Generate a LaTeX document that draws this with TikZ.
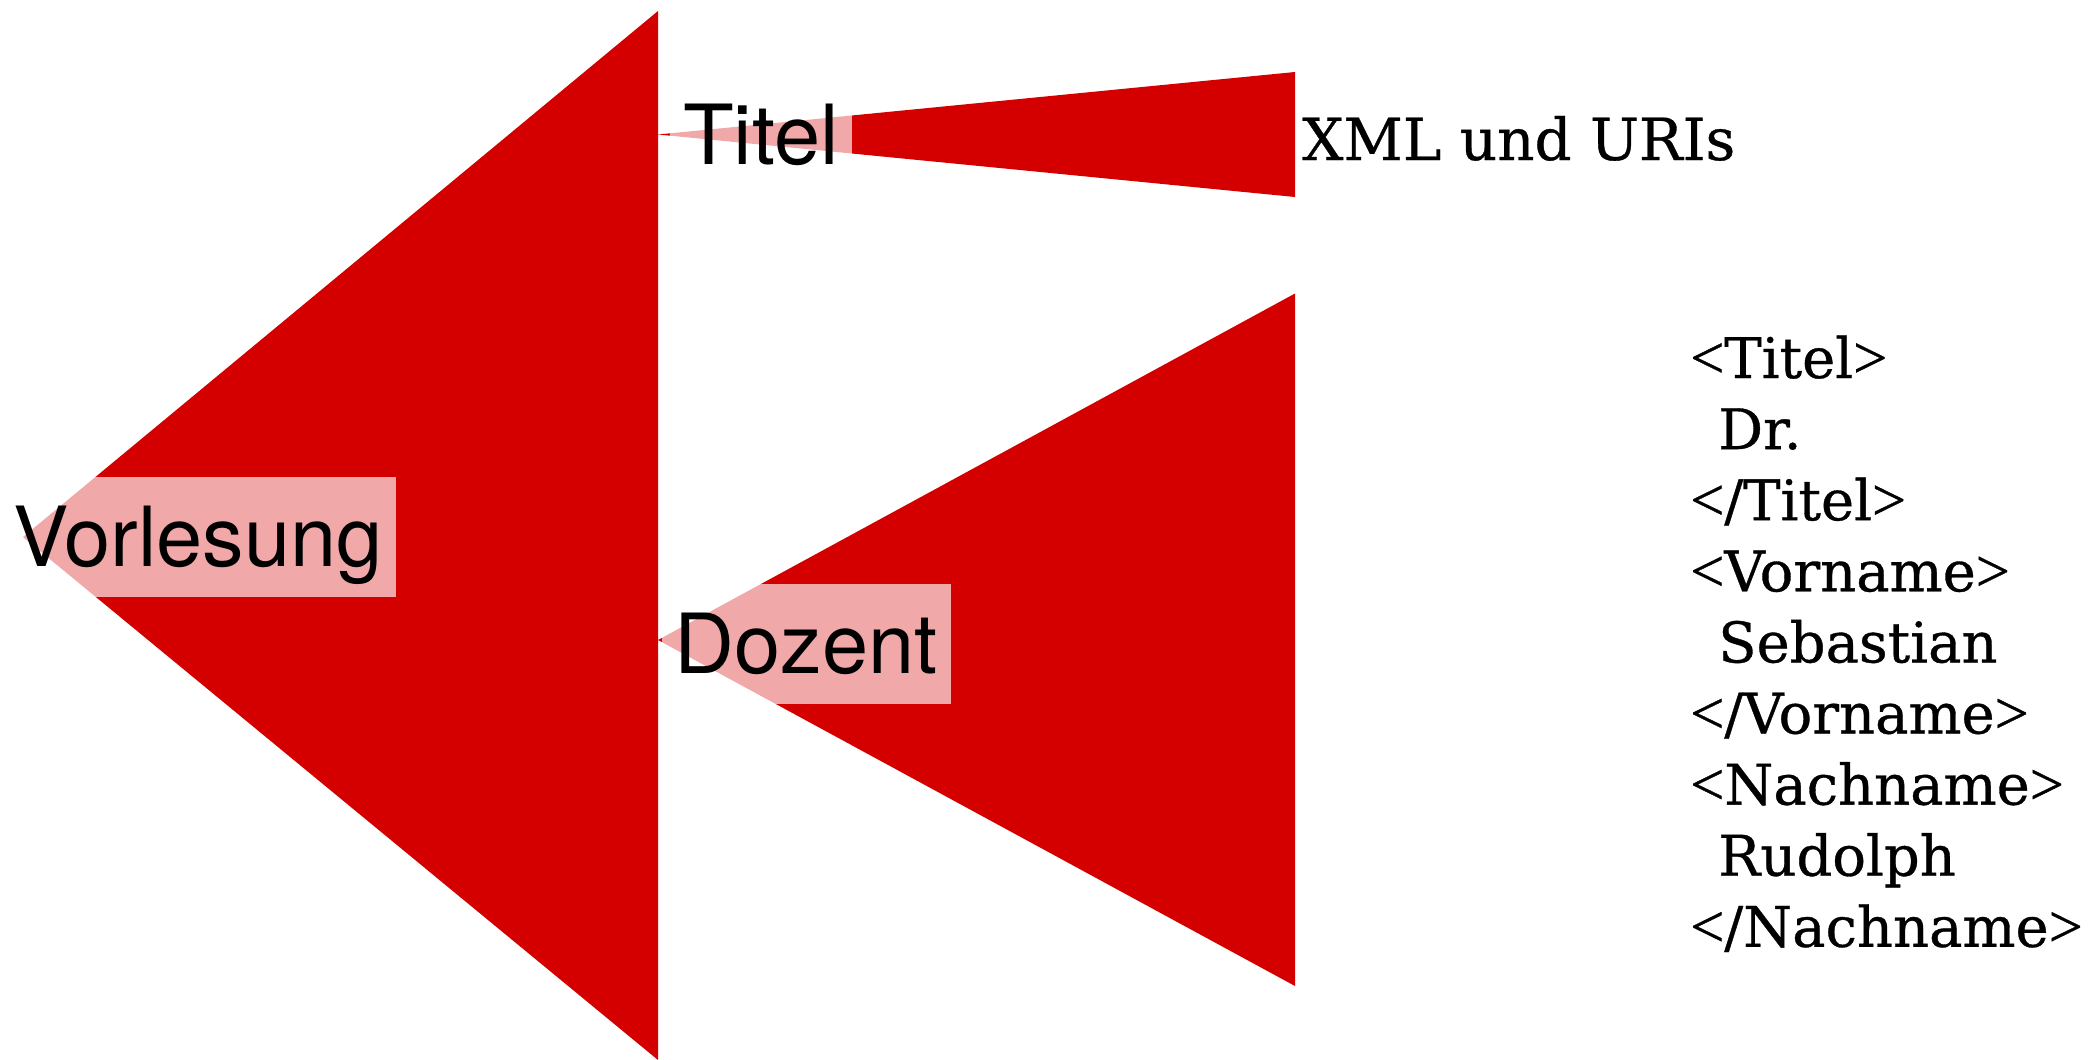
\documentclass[tikz,border=0pt]{standalone}
\usepackage{fontspec}
\setmainfont{TeX Gyre Heros}
\newfontfamily\xmlfont[FakeBold=0.6]{DejaVu Serif}
\newfontfamily\bracketfont[FakeBold=0.6,Scale=1.08]{Liberation Serif}
\newcommand\xlt{{\bracketfont<}}
\newcommand\xgt{{\bracketfont>}}
\usetikzlibrary{backgrounds}
\definecolor{wedgered}{RGB}{212,0,0}
\tikzset{
  lbl/.style={fill=white, fill opacity=0.66, text opacity=1, inner xsep=13pt, inner ysep=0pt,
    minimum height=120pt, text height=59pt, text depth=0pt,
    font=\fontsize{83}{100}\selectfont},
  wedge/.style={fill=wedgered, draw=none},
  xmltxt/.style={inner sep=0pt, anchor=base west, font=\xmlfont\fontsize{56}{67}\selectfont},
}
\begin{document}
\begin{tikzpicture}[x=1pt,y=-1pt]
\useasboundingbox (0,0) rectangle (2094,1060);
% labels
\node[lbl, anchor=east] (vorl) at (396,537) {Vorlesung};
\node[lbl, anchor=east] (titel) at (852,135) {Titel};
\node[lbl, anchor=east] (doz) at (951,644) {Dozent};
% wedge corners
\coordinate (vA) at (23,537);
\coordinate (vT) at (658,11);
\coordinate (vB) at (658,1060);
\coordinate (tA) at (658,134.5);
\coordinate (tT) at (1295,72);
\coordinate (tB) at (1295,197);
\coordinate (dA) at (658,640);
\coordinate (dT) at (1295,293.5);
\coordinate (dB) at (1295,986);
\begin{pgfonlayer}{background}
  \fill[wedge] (vA) -- (vT) -- (vB) -- cycle;
  \fill[wedge] (tA) -- (tT) -- (tB) -- cycle;
  \fill[wedge] (dA) -- (dT) -- (dB) -- cycle;
\end{pgfonlayer}
% right texts
\node[xmltxt, font=\xmlfont\fontsize{58}{70}\selectfont] (uri) at (1302,160) {XML und URIs};
\node[xmltxt] (x1) at (1690,378) {\xlt Titel\xgt};
\node[xmltxt] (x2) at (1718,449.1) {Dr.};
\node[xmltxt] (x3) at (1690,520.2) {\xlt/Titel\xgt};
\node[xmltxt] (x4) at (1690,591.3) {\xlt Vorname\xgt};
\node[xmltxt] (x5) at (1718,662.4) {Sebastian};
\node[xmltxt] (x6) at (1690,733.5) {\xlt/Vorname\xgt};
\node[xmltxt] (x7) at (1690,804.6) {\xlt Nachname\xgt};
\node[xmltxt] (x8) at (1718,875.7) {Rudolph};
\node[xmltxt] (x9) at (1690,946.8) {\xlt/Nachname\xgt};
\end{tikzpicture}
\end{document}
